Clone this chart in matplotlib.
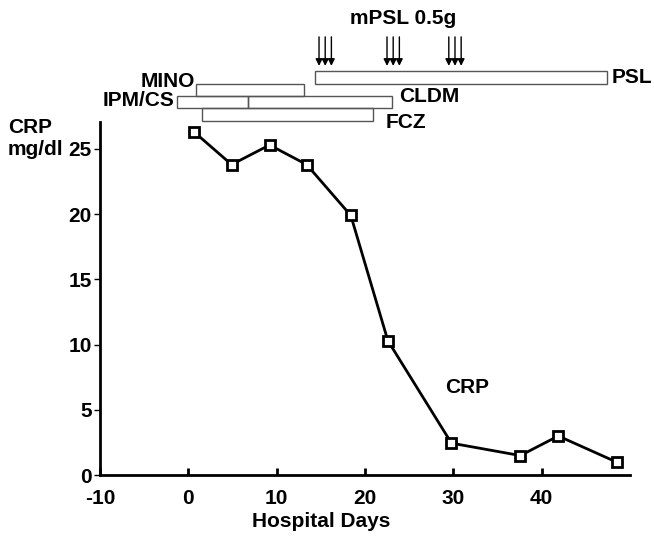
import numpy as np
import matplotlib.pyplot as plt

plt.rcParams['font.family'] = ['Liberation Sans', 'DejaVu Sans']
plt.rcParams['font.weight'] = 'bold'
plt.rcParams['axes.unicode_minus'] = False

# CRP (mg/dl) segons els dies d'hospitalització
dies = [0.65, 4.9, 9.2, 13.4, 18.4, 22.6, 29.8, 37.6, 41.9, 48.5]
crp = [26.3, 23.8, 25.3, 23.8, 19.9, 10.3, 2.45, 1.5, 3.0, 1.0]

# tractaments: (nom, inici, final)
farmacs = ['PSL', 'MINO', 'IPM/CS', 'CLDM', 'FCZ']
inici = [14.4, 0.9, -1.25, 6.7, 1.6]
final = [47.4, 13.1, 6.7, 23.1, 20.9]

# bolus de mPSL 0.5g
bolus = [14.8, 15.5, 16.2, 22.5, 23.2, 23.9, 29.5, 30.2, 30.9]

fs = 15
fig = plt.figure(figsize=(6.54, 5.43), dpi=100)
ax = fig.add_axes([0.153, 0.125, 0.81, 0.65])

ax.plot(dies, crp, color='black', lw=2, marker='s', ms=7,
        mfc='white', mec='black', mew=2, zorder=3, clip_on=False)

ax.set_xlim(-10, 50)
ax.set_ylim(0, 27.05)
ax.set_xticks([-10, 0, 10, 20, 30, 40])
ax.set_yticks([0, 5, 10, 15, 20, 25])
ax.spines['top'].set_visible(False)
ax.spines['right'].set_visible(False)
ax.spines['left'].set_linewidth(2)
ax.spines['bottom'].set_linewidth(2)
ax.tick_params(axis='x', direction='in', length=5, width=2, labelsize=fs, pad=10)
ax.tick_params(axis='y', direction='out', length=4, width=1, labelsize=fs, pad=2)
ax.set_xlabel('Hospital Days', fontsize=fs, fontweight='bold', labelpad=3,
              x=(15.1 + 10) / 60)

# barres dels tractaments (per sobre de l'eix)
files = [30.0, 29.05, 28.12, 28.12, 27.15]
alt = 0.95
for nom, a, b, y in zip(farmacs, inici, final, files):
    ax.add_patch(plt.Rectangle((a, y), b - a, alt, fill=False, ec='#555555',
                               lw=1, clip_on=False))

ax.text(47.9, 30.5, 'PSL', fontsize=fs, va='center', ha='left')
ax.text(0.8, 30.15, 'MINO', fontsize=fs, va='center', ha='right')
ax.text(-1.6, 28.7, 'IPM/CS', fontsize=fs, va='center', ha='right')
ax.text(23.9, 29.05, 'CLDM', fontsize=fs, va='center', ha='left')
ax.text(22.3, 27.0, 'FCZ', fontsize=fs, va='center', ha='left')

for b in bolus:
    ax.annotate('', xy=(b, 31.15), xytext=(b, 33.8), annotation_clip=False,
                arrowprops=dict(arrowstyle='-|>', color='black', lw=1,
                                mutation_scale=10))
ax.text(24.3, 35.0, 'mPSL 0.5g', fontsize=fs, ha='center', va='center')

ax.text(31.6, 6.7, 'CRP', fontsize=fs, ha='center', va='center')
fig.text(0.012, 0.745, 'CRP\nmg/dl', fontsize=fs, ha='left', va='center',
         linespacing=1.15)

fig.savefig('out.png')
